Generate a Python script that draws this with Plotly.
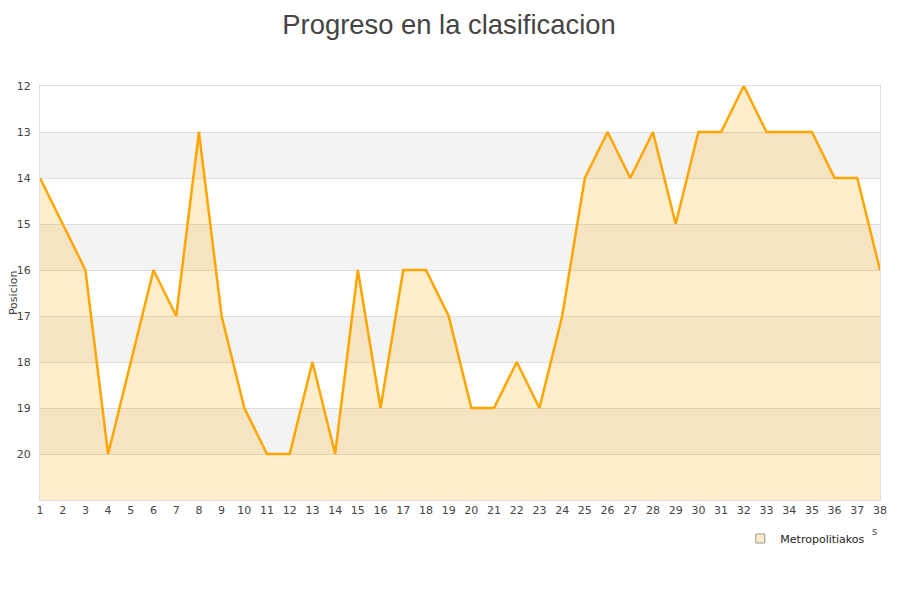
import plotly.graph_objects as go

jornadas = list(range(1, 39))
posiciones = [14, 15, 16, 20, 18, 16, 17, 13, 17, 19, 20, 20, 18, 20, 16, 19, 16, 16, 17, 19,
              19, 18, 19, 17, 14, 13, 14, 13, 15, 13, 13, 12, 13, 13, 13, 14, 14, 16]
equipo = "Metropolitiakos"
y_ticks = list(range(12, 21))
gray_bands = [(13, 14), (15, 16), (17, 18), (19, 20)]

fig = go.Figure()
fig.add_trace(go.Scatter(
    x=jornadas, y=[21] * len(jornadas), mode="lines", line=dict(width=0),
    showlegend=False, hoverinfo="skip"))
fig.add_trace(go.Scatter(
    x=jornadas, y=posiciones, mode="lines", name=equipo,
    line=dict(color="#FFA500", width=2.5),
    fill="tonexty", fillcolor="rgba(255,165,0,0.2)", showlegend=False))
fig.add_trace(go.Scatter(
    x=[None], y=[None], mode="markers", name=equipo,
    marker=dict(symbol="square", size=9, color="#FFEBC8",
                line=dict(color="#999999", width=1))))

shapes = []
for a, b in gray_bands:
    shapes.append(dict(type="rect", xref="paper", yref="y", x0=0, x1=1, y0=a, y1=b,
                       fillcolor="#F3F3F3", line=dict(width=0), layer="below"))
fig.update_layout(shapes=shapes)

fig.update_layout(
    width=900, height=600,
    paper_bgcolor="white", plot_bgcolor="white",
    margin=dict(l=32, r=28, t=78, b=108, autoexpand=False),
    title=dict(text="Progreso en la clasificacion", x=0.490, xanchor="center",
               y=0.972, yanchor="middle",
               font=dict(family="Liberation Sans, Arial", size=27.4, color="#444444")),
    font=dict(family="DejaVu Sans", size=11, color="#444444"),
    xaxis=dict(range=[1, 38], tickmode="array", tickvals=jornadas, showgrid=False,
               zeroline=False, showline=True, linecolor="#DDDDDD", mirror=True,
               automargin=False,
               tickfont=dict(size=11, color="#444444"), ticks=""),
    yaxis=dict(range=[21, 12], tickmode="array", tickvals=y_ticks, showgrid=True,
               gridcolor="#DDDDDD", zeroline=False, showline=True, linecolor="#DDDDDD",
               mirror=True, ticks="", ticklabelstandoff=6, automargin=False,
               tickfont=dict(size=11, color="#444444")),
    legend=dict(x=0.9885, y=-0.058, xanchor="right", yanchor="top", orientation="h",
                itemwidth=30,
                font=dict(size=11, color="#222222"), bgcolor="rgba(0,0,0,0)"),
    annotations=[
        dict(text="s", xref="paper", yref="paper", x=0.993, y=-0.075,
             showarrow=False, font=dict(size=10, color="#444444"),
             xanchor="center", yanchor="middle"),
        dict(text="Posicion", xref="paper", yref="paper", x=-0.032, y=0.5,
             textangle=-90, showarrow=False, font=dict(size=11, color="#444444"),
             xanchor="center", yanchor="middle"),
    ],
)

fig.write_html("out.html")
